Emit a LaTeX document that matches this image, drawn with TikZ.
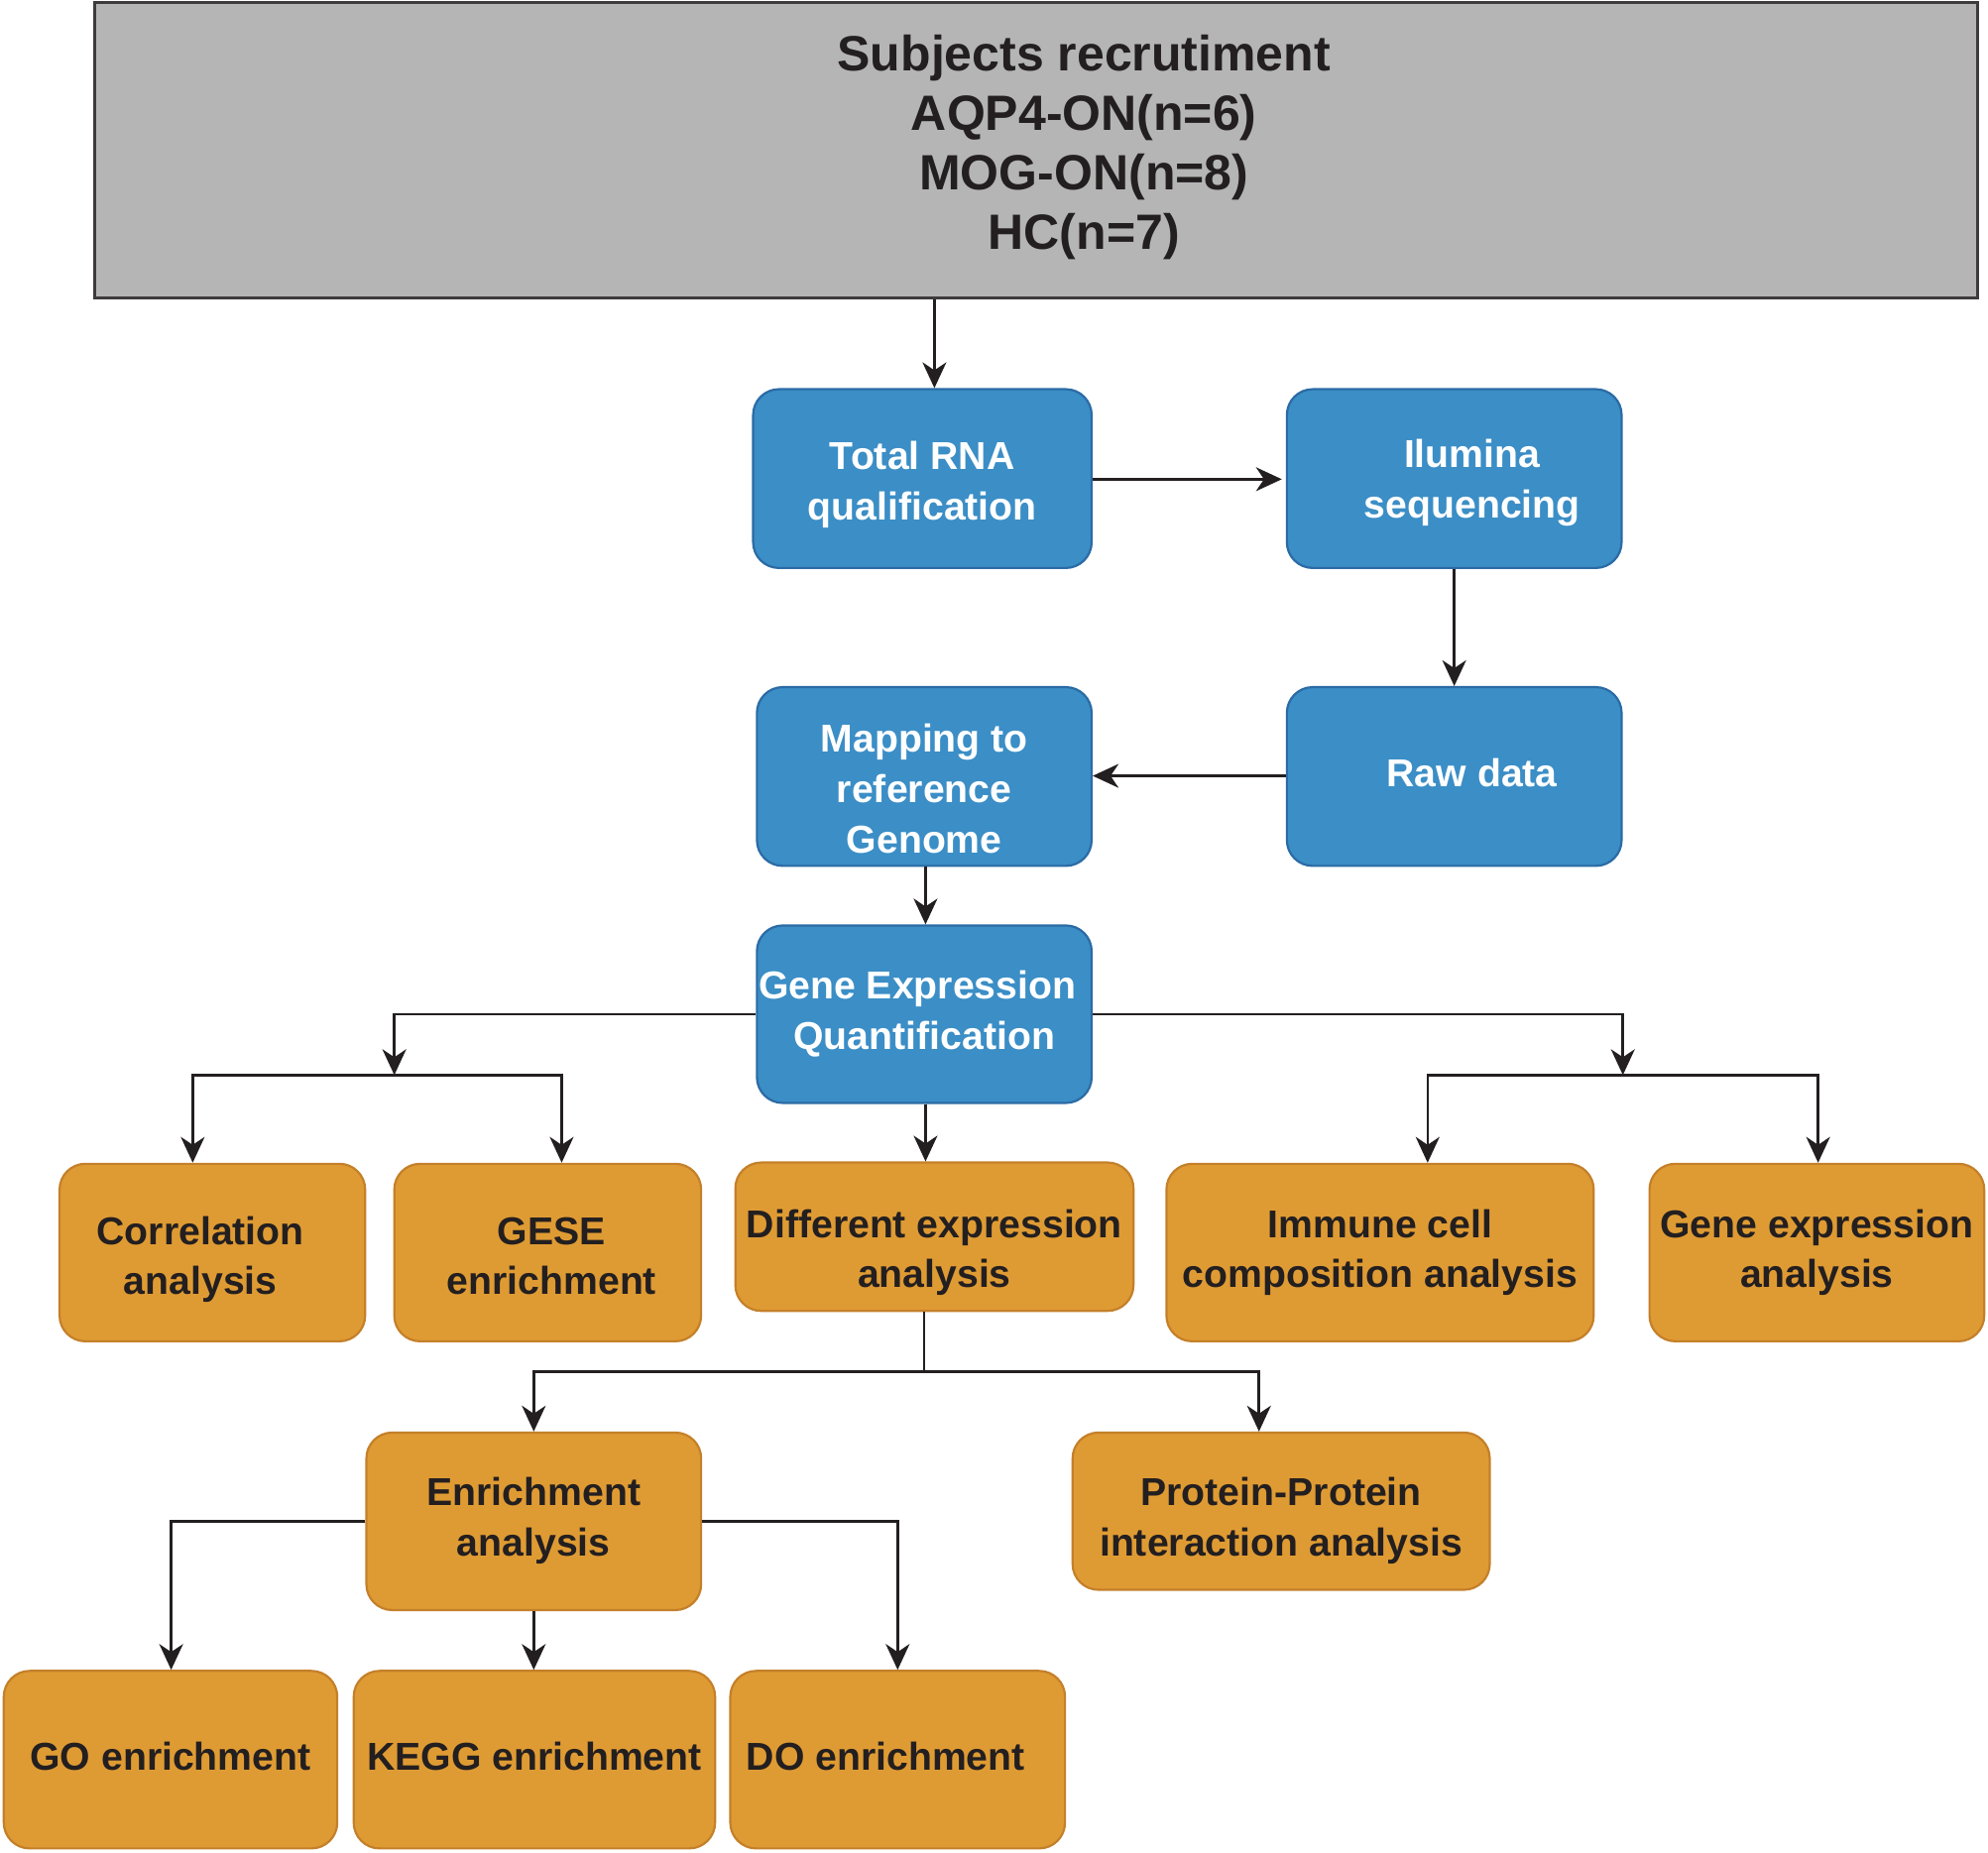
\documentclass[tikz,border=0pt]{standalone}
\usepackage{fontspec}
\setmainfont{Liberation Sans}
\usetikzlibrary{arrows.meta}
\definecolor{bfill}{HTML}{3B8EC6}
\definecolor{bline}{HTML}{2B6BA5}
\definecolor{ofill}{HTML}{DF9B33}
\definecolor{oline}{HTML}{C4802A}
\definecolor{gfill}{HTML}{B4B5B4}
\definecolor{gline}{HTML}{3F3B3C}
\definecolor{txt}{HTML}{231F20}
\newcommand\tx[2]{\raisebox{#1}[0pt][0pt]{\begin{tabular}{@{}c@{}}#2\end{tabular}}}
\begin{document}
\begin{tikzpicture}[x=0.6394pt,y=-0.6394pt,
  sz/.style 2 args={minimum width=#1*0.6394pt, minimum height=#2*0.6394pt},
  box/.style={rounded corners=13pt, line width=1.1pt, inner sep=0pt,
    font=\bfseries\fontsize{19.6}{25.4}\selectfont},
  bbox/.style={box, draw=bline, fill=bfill, text=white},
  obox/.style={box, draw=oline, fill=ofill, text=txt},
  arr/.style={-{Stealth[length=13pt,width=12pt,inset=4pt]}, line width=1.3pt, draw=txt},
  ln/.style={line width=1.3pt, draw=txt}]
\useasboundingbox (0,0) rectangle (1568,1461);

% top gray box
\node[sz={1485}{233}, inner sep=0pt, draw=gline, fill=gfill, line width=1.5pt] (subj) at (817.5,118.5) {};
\node[align=center, text=txt, font=\bfseries\fontsize{25}{30}\selectfont] (subjt) at (855,116)
  {Subjects recrutiment\\AQP4-ON(n=6)\\MOG-ON(n=8)\\HC(n=7)};

% blue boxes
\node[bbox, sz={267}{141}] (rna) at (727.5,377.5) {\tx{-8.4pt}{Total RNA\\qualification}};
\node[bbox, sz={264}{141}] (ilu) at (1147,377.5) {\tx{-7.1pt}{\hspace*{18pt}Ilumina\\\hspace*{18pt}sequencing}};
\node[bbox, sz={264}{141}] (raw) at (1147,612.5) {\tx{-5.2pt}{\hspace*{18pt}Raw data}};
\node[bbox, sz={264}{141}] (map) at (729,612.5) {\tx{-13.2pt}{Mapping to\\reference\\Genome}};
\node[bbox, sz={264}{140}] (geq) at (729,800) {\tx{-5.2pt}{Gene Expression\hspace*{7pt}\\Quantification}};

% orange boxes
\node[obox, sz={241}{140}] (cor) at (167.5,988) {\tx{-8.7pt}{Correlation\hspace*{12pt}\\analysis\hspace*{12pt}}};
\node[obox, sz={242}{140}] (gese) at (432,988) {\tx{-8.7pt}{\hspace*{4pt}GESE\\\hspace*{4pt}enrichment}};
\node[obox, sz={314}{117}] (dif) at (737,975.5) {\tx{-13.2pt}{Different expression\\analysis}};
\node[obox, sz={337}{140}] (imm) at (1088.5,988) {\tx{-5.2pt}{Immune cell\\composition analysis}};
\node[obox, sz={264}{140}] (gea) at (1433,988) {\tx{-5.2pt}{Gene expression\\analysis}};
\node[obox, sz={264}{140}] (enr) at (421,1200) {\tx{-4.9pt}{Enrichment\\analysis}};
\node[obox, sz={329}{124}] (ppi) at (1010.5,1192) {\tx{-10pt}{Protein-Protein\\interaction analysis}};
\node[obox, sz={263}{140}] (go) at (134.5,1388) {\tx{-5.5pt}{GO enrichment}};
\node[obox, sz={285}{140}] (kegg) at (421.5,1388) {\tx{-5.5pt}{KEGG enrichment}};
\node[obox, sz={264}{140}] (do) at (708,1388) {\tx{-5.5pt}{DO enrichment\hspace*{12pt}}};

% junction points
\coordinate (lb) at (311,848);
\coordinate (rb) at (1280,848);
\coordinate (db) at (729,1082);

% connectors
\draw[arr] (subj.south -| 737,0) -- (rna.north -| 737,0);
\draw[arr] (rna.east |- 0,378) -- ([xshift=-2pt]ilu.west |- 0,378);
\draw[arr] (ilu.south) -- (raw.north);
\draw[arr] (raw.west |- 0,612) -- (map.east |- 0,612);
\draw[arr] (map.south -| 730,0) -- (geq.north -| 730,0);

\draw[arr] (geq.west |- 0,800) -| (lb);
\draw[arr] (lb) -| (cor.north -| 152,0);
\draw[arr] (lb) -| (gese.north -| 443,0);

\draw[arr] (geq.east |- 0,800) -| (rb);
\draw[arr] (rb) -| (imm.north -| 1126,0);
\draw[arr] (rb) -| (gea.north -| 1434,0);

\draw[arr] (geq.south -| 730,0) -- (dif.north -| 730,0);

\draw[ln] (dif.south -| 729,0) -- (db);
\draw[arr] (db) -| (enr.north -| 421,0);
\draw[arr] (db) -| (ppi.north -| 993,0);

\draw[arr] (enr.west |- 0,1200) -| (go.north -| 135,0);
\draw[arr] (enr.south -| 421,0) -- (kegg.north -| 421,0);
\draw[arr] (enr.east |- 0,1200) -| (do.north -| 708,0);
\end{tikzpicture}
\end{document}
